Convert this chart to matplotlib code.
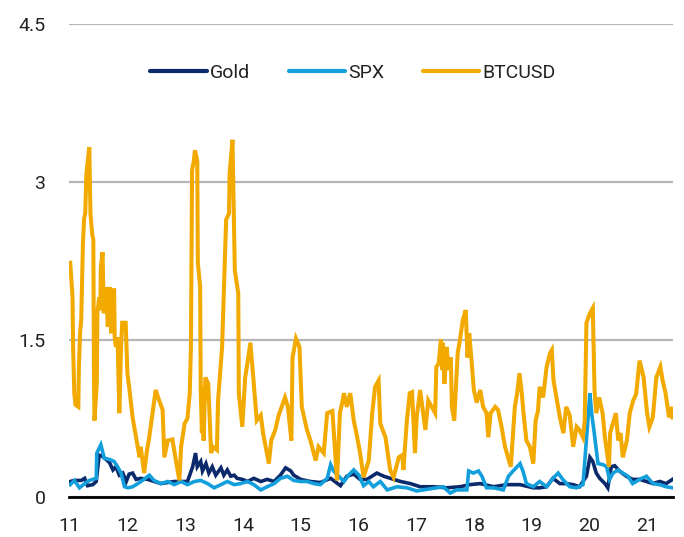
import matplotlib
matplotlib.use('Agg')
import matplotlib.pyplot as plt

# volatility series (decimal year, value)
btc_t = [2011.01, 2011.05, 2011.06, 2011.08, 2011.10, 2011.15, 2011.16, 2011.18, 2011.20, 2011.23,
         2011.25, 2011.27, 2011.29, 2011.34, 2011.36, 2011.39, 2011.41, 2011.42, 2011.43, 2011.47,
         2011.48, 2011.51, 2011.53, 2011.54, 2011.57, 2011.59, 2011.63, 2011.66, 2011.69, 2011.72,
         2011.74, 2011.77, 2011.78, 2011.80, 2011.83, 2011.86, 2011.89, 2011.91, 2011.97, 2012.00,
         2012.03, 2012.09, 2012.15, 2012.21, 2012.23, 2012.29, 2012.34, 2012.37, 2012.41, 2012.49,
         2012.55, 2012.61, 2012.64, 2012.70, 2012.78, 2012.84, 2012.90, 2012.93, 2012.99, 2013.04,
         2013.08, 2013.10, 2013.12, 2013.15, 2013.17, 2013.21, 2013.22, 2013.26, 2013.27, 2013.29,
         2013.30, 2013.32, 2013.35, 2013.40, 2013.45, 2013.48, 2013.55, 2013.57, 2013.62, 2013.64,
         2013.71, 2013.76, 2013.77, 2013.82, 2013.86, 2013.92, 2013.93, 2013.99, 2014.04, 2014.08,
         2014.13, 2014.18, 2014.24, 2014.31, 2014.35, 2014.45, 2014.49, 2014.56, 2014.62, 2014.73,
         2014.78, 2014.84, 2014.86, 2014.92, 2014.98, 2015.02, 2015.11, 2015.17, 2015.26, 2015.31,
         2015.40, 2015.46, 2015.55, 2015.63, 2015.68, 2015.72, 2015.75, 2015.80, 2015.86, 2015.92,
         2015.98, 2016.03, 2016.09, 2016.18, 2016.24, 2016.29, 2016.35, 2016.38, 2016.47, 2016.55,
         2016.61, 2016.70, 2016.76, 2016.78, 2016.84, 2016.89, 2016.93, 2016.98, 2017.01, 2017.07,
         2017.16, 2017.21, 2017.33, 2017.35, 2017.39, 2017.43, 2017.45, 2017.46, 2017.49, 2017.53,
         2017.56, 2017.60, 2017.62, 2017.66, 2017.68, 2017.72, 2017.76, 2017.81, 2017.86, 2017.89,
         2017.92, 2017.96, 2018.00, 2018.05, 2018.11, 2018.16, 2018.22, 2018.25, 2018.29, 2018.37,
         2018.42, 2018.48, 2018.54, 2018.64, 2018.71, 2018.75, 2018.79, 2018.83, 2018.86, 2018.91,
         2018.97, 2019.03, 2019.07, 2019.11, 2019.14, 2019.20, 2019.26, 2019.32, 2019.35, 2019.38,
         2019.43, 2019.49, 2019.55, 2019.60, 2019.66, 2019.72, 2019.78, 2019.83, 2019.89, 2019.92,
         2019.95, 2020.01, 2020.06, 2020.09, 2020.12, 2020.17, 2020.23, 2020.27, 2020.34, 2020.36,
         2020.46, 2020.50, 2020.54, 2020.58, 2020.65, 2020.70, 2020.76, 2020.81, 2020.87, 2020.94,
         2021.00, 2021.04, 2021.10, 2021.16, 2021.23, 2021.27, 2021.32, 2021.38, 2021.42, 2021.44]
btc_v = [2.23, 1.90, 1.42, 0.99, 0.88, 0.86, 1.24, 1.56, 1.69, 2.42,
         2.65, 2.70, 3.08, 3.33, 2.70, 2.50, 2.45, 1.24, 0.73, 1.08,
         1.75, 1.90, 1.78, 2.19, 2.33, 1.75, 2.00, 1.62, 2.00, 1.56,
         1.97, 1.97, 1.52, 1.43, 1.52, 0.80, 1.43, 1.66, 1.66, 1.18,
         1.05, 0.76, 0.57, 0.38, 0.48, 0.23, 0.45, 0.54, 0.70, 1.02,
         0.92, 0.83, 0.38, 0.54, 0.55, 0.35, 0.16, 0.48, 0.70, 0.75,
         0.99, 1.43, 3.11, 3.20, 3.30, 3.20, 2.23, 2.00, 1.02, 0.61,
         1.05, 0.54, 1.14, 1.08, 0.42, 0.48, 0.45, 0.92, 1.28, 1.43,
         2.64, 2.70, 3.08, 3.40, 2.16, 1.94, 0.99, 0.67, 1.14, 1.28,
         1.47, 1.14, 0.73, 0.78, 0.61, 0.32, 0.54, 0.64, 0.78, 0.95,
         0.86, 0.54, 1.33, 1.51, 1.43, 0.86, 0.64, 0.54, 0.35, 0.48,
         0.42, 0.80, 0.82, 0.16, 0.80, 0.90, 0.99, 0.86, 0.99, 0.73,
         0.57, 0.42, 0.19, 0.35, 0.80, 1.05, 1.11, 0.70, 0.57, 0.26,
         0.19, 0.38, 0.40, 0.26, 0.73, 0.99, 1.00, 0.42, 0.76, 1.02,
         0.64, 0.92, 0.80, 1.24, 1.27, 1.50, 1.21, 1.47, 1.08, 1.43,
         1.21, 1.33, 0.86, 0.73, 0.95, 1.37, 1.50, 1.69, 1.78, 1.33,
         1.56, 1.30, 1.02, 0.90, 1.02, 0.86, 0.80, 0.57, 0.80, 0.86,
         0.83, 0.67, 0.48, 0.29, 0.86, 0.99, 1.18, 0.99, 0.80, 0.54,
         0.48, 0.32, 0.73, 0.82, 1.05, 0.95, 1.24, 1.37, 1.40, 1.11,
         0.95, 0.76, 0.61, 0.86, 0.78, 0.48, 0.67, 0.64, 0.57, 0.73,
         1.66, 1.75, 1.80, 1.02, 0.80, 0.95, 0.80, 0.57, 0.29, 0.61,
         0.80, 0.54, 0.61, 0.38, 0.54, 0.80, 0.92, 0.98, 1.30, 1.14,
         0.80, 0.67, 0.76, 1.14, 1.24, 1.11, 0.99, 0.76, 0.86, 0.76]

gold_t = [2011.01, 2011.08, 2011.20, 2011.26, 2011.31, 2011.40, 2011.46, 2011.51, 2011.57, 2011.63,
          2011.69, 2011.75, 2011.80, 2011.86, 2011.92, 2011.98, 2012.03, 2012.09, 2012.15, 2012.23,
          2012.35, 2012.58, 2012.81, 2013.04, 2013.13, 2013.18, 2013.21, 2013.27, 2013.30, 2013.36,
          2013.41, 2013.47, 2013.53, 2013.62, 2013.67, 2013.73, 2013.79, 2013.85, 2013.90, 2013.99,
          2014.08, 2014.19, 2014.31, 2014.42, 2014.54, 2014.65, 2014.74, 2014.83, 2014.88, 2015.00,
          2015.17, 2015.34, 2015.52, 2015.69, 2015.80, 2015.92, 2016.03, 2016.15, 2016.32, 2016.44,
          2016.73, 2016.90, 2017.07, 2017.30, 2017.53, 2017.76, 2017.93, 2018.11, 2018.34, 2018.57,
          2018.80, 2019.03, 2019.14, 2019.26, 2019.37, 2019.49, 2019.60, 2019.72, 2019.83, 2019.95,
          2020.01, 2020.06, 2020.12, 2020.18, 2020.27, 2020.32, 2020.38, 2020.44, 2020.52, 2020.64,
          2020.75, 2020.87, 2020.99, 2021.10, 2021.22, 2021.33, 2021.44]
gold_v = [0.15, 0.16, 0.16, 0.18, 0.11, 0.12, 0.15, 0.40, 0.39, 0.36,
          0.33, 0.26, 0.29, 0.21, 0.23, 0.15, 0.22, 0.23, 0.17, 0.18,
          0.17, 0.13, 0.15, 0.15, 0.29, 0.42, 0.29, 0.34, 0.25, 0.32,
          0.23, 0.29, 0.21, 0.28, 0.21, 0.26, 0.20, 0.21, 0.18, 0.17,
          0.15, 0.18, 0.15, 0.17, 0.15, 0.21, 0.28, 0.25, 0.21, 0.17,
          0.15, 0.14, 0.18, 0.11, 0.20, 0.22, 0.17, 0.17, 0.23, 0.20,
          0.15, 0.13, 0.10, 0.10, 0.09, 0.10, 0.12, 0.13, 0.10, 0.12,
          0.12, 0.09, 0.09, 0.10, 0.18, 0.13, 0.13, 0.12, 0.10, 0.20,
          0.38, 0.34, 0.23, 0.18, 0.13, 0.09, 0.29, 0.30, 0.25, 0.20,
          0.17, 0.17, 0.15, 0.13, 0.15, 0.13, 0.17]

spx_t = [2011.01, 2011.08, 2011.17, 2011.26, 2011.34, 2011.46, 2011.47, 2011.54, 2011.60, 2011.69,
         2011.77, 2011.83, 2011.89, 2011.95, 2012.01, 2012.09, 2012.18, 2012.26, 2012.38, 2012.46,
         2012.58, 2012.70, 2012.81, 2012.93, 2013.04, 2013.16, 2013.27, 2013.39, 2013.50, 2013.62,
         2013.73, 2013.85, 2013.96, 2014.08, 2014.19, 2014.31, 2014.42, 2014.54, 2014.65, 2014.77,
         2014.88, 2015.00, 2015.11, 2015.23, 2015.34, 2015.46, 2015.52, 2015.57, 2015.66, 2015.75,
         2015.83, 2015.92, 2016.01, 2016.09, 2016.18, 2016.26, 2016.38, 2016.50, 2016.67, 2016.84,
         2017.01, 2017.24, 2017.47, 2017.59, 2017.70, 2017.88, 2017.91, 2017.99, 2018.08, 2018.14,
         2018.22, 2018.34, 2018.51, 2018.60, 2018.68, 2018.80, 2018.85, 2018.91, 2019.03, 2019.14,
         2019.26, 2019.37, 2019.46, 2019.54, 2019.66, 2019.78, 2019.89, 2019.95, 2020.01, 2020.04,
         2020.09, 2020.15, 2020.24, 2020.30, 2020.35, 2020.41, 2020.50, 2020.58, 2020.67, 2020.75,
         2020.87, 2020.99, 2021.10, 2021.22, 2021.33, 2021.44]
spx_v = [0.12, 0.16, 0.09, 0.13, 0.16, 0.18, 0.42, 0.50, 0.37, 0.36,
         0.34, 0.29, 0.23, 0.10, 0.09, 0.10, 0.13, 0.16, 0.21, 0.16,
         0.13, 0.15, 0.12, 0.15, 0.12, 0.15, 0.16, 0.13, 0.09, 0.12,
         0.15, 0.12, 0.13, 0.15, 0.12, 0.07, 0.10, 0.13, 0.18, 0.20,
         0.16, 0.15, 0.15, 0.13, 0.12, 0.18, 0.31, 0.25, 0.20, 0.15,
         0.21, 0.26, 0.21, 0.11, 0.15, 0.10, 0.15, 0.07, 0.10, 0.09,
         0.06, 0.08, 0.10, 0.04, 0.07, 0.07, 0.25, 0.23, 0.25, 0.20,
         0.09, 0.09, 0.07, 0.20, 0.25, 0.32, 0.25, 0.13, 0.10, 0.15,
         0.10, 0.18, 0.23, 0.17, 0.10, 0.09, 0.12, 0.55, 0.99, 0.80,
         0.59, 0.32, 0.31, 0.29, 0.17, 0.23, 0.26, 0.23, 0.20, 0.13,
         0.17, 0.20, 0.13, 0.12, 0.10, 0.09]

years = list(range(2011, 2022))
year_labels = [str(y)[2:] for y in years]

plt.rcParams['font.family'] = ['Roboto', 'DejaVu Sans']

fig = plt.figure(figsize=(6.84, 5.37), dpi=100)
ax = fig.add_axes([0.101, 0.074, 0.883, 0.881])

ax.plot(gold_t, gold_v, color='#0b2a6b', lw=2.6, label='Gold', solid_joinstyle='miter')
ax.plot(spx_t, spx_v, color='#139fdb', lw=2.6, label='SPX', solid_joinstyle='miter')
ax.plot(btc_t, btc_v, color='#f2a900', lw=2.9, label='BTCUSD', solid_joinstyle='miter')

ax.set_xlim(2010.99, 2021.45)
ax.set_ylim(0, 4.5)
ax.set_yticks([0, 1.5, 3, 4.5])
ax.set_yticklabels(['0', '1.5', '3', '4.5'])
ax.set_xticks(years)
ax.set_xticklabels(year_labels)
ax.tick_params(length=0, labelsize=14, colors='#222222')
ax.tick_params(axis='y', pad=17)
ax.tick_params(axis='x', pad=14)
for s in ['left', 'right', 'top']:
    ax.spines[s].set_visible(False)
ax.spines['bottom'].set_linewidth(2)
ax.spines['bottom'].set_color('black')
ax.spines['bottom'].set_zorder(5)
ax.yaxis.grid(True, color='#b5b5b5', lw=1.6)
ax.set_axisbelow(True)

leg = ax.legend(loc='center', bbox_to_anchor=(0.47, 0.897), ncol=3, frameon=False,
                fontsize=14, handlelength=2.9, handletextpad=0.15, columnspacing=2.0)
for t in leg.get_texts():
    t.set_color('#222222')
for h in leg.get_lines():
    h.set_linewidth(3)
    h.set_solid_capstyle('round')

fig.savefig('out.png', dpi=100)
